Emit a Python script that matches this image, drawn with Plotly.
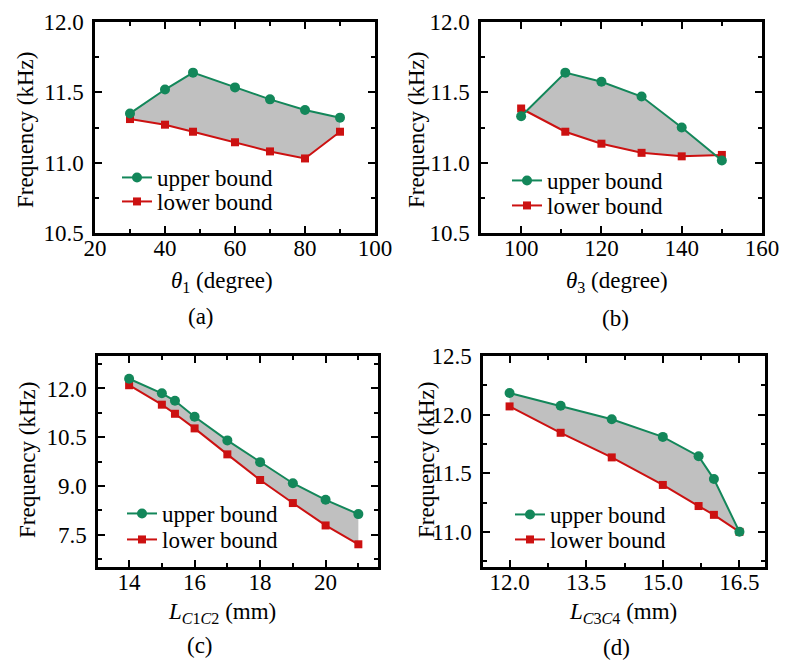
import plotly.graph_objects as go

# ---------------- data ----------------
a_x = [30, 40, 48, 60, 70, 80, 90]
a_upper = [11.35, 11.52, 11.64, 11.535, 11.45, 11.375, 11.32]
a_lower = [11.31, 11.27, 11.22, 11.145, 11.08, 11.03, 11.22]

b_x = [100, 111, 120, 130, 140, 150]
b_upper = [11.33, 11.64, 11.575, 11.47, 11.25, 11.015]
b_lower = [11.385, 11.22, 11.135, 11.07, 11.045, 11.055]

c_x = [14, 15, 15.4, 16, 17, 18, 19, 20, 21]
c_upper = [12.3, 11.85, 11.62, 11.13, 10.4, 9.73, 9.08, 8.57, 8.13]
c_lower = [12.1, 11.5, 11.22, 10.77, 9.97, 9.18, 8.47, 7.78, 7.2]

d_x = [12, 13, 14, 15, 15.7, 16, 16.5]
d_upper = [12.185, 12.075, 11.96, 11.81, 11.645, 11.45, 11.0]
d_lower = [12.07, 11.845, 11.635, 11.4, 11.22, 11.145, 11.0]

series_names = ["upper bound", "lower bound"]
x_titles = ["<i>θ</i><sub>1</sub> (degree)", "<i>θ</i><sub>3</sub> (degree)",
            "<i>L</i><sub><i>C</i>1<i>C</i>2</sub> (mm)", "<i>L</i><sub><i>C</i>3<i>C</i>4</sub> (mm)"]
y_title = "Frequency (kHz)"
panel_labels = ["(a)", "(b)", "(c)", "(d)"]

# ---------------- style ----------------
# the page body has an 8px margin, so the figure is drawn from (8, 8)
OFF = 8
W, H = 791 - OFF, 663 - OFF
FONT = "Liberation Serif"
FS = 23
GREEN = "#13875A"
RED = "#CC1111"
FILL = "#C0C0C0"

def px(x):
    return (x - OFF) / W

def py(y):
    return 1 - (y - OFF) / H

panels = [
    dict(x=a_x, up=a_upper, lo=a_lower, frame=(95, 375, 22, 233), xr=[20, 100], yr=[10.5, 12.0],
         xd=20, xt0=0, xm=10, yd=0.5, yt0=10.5, ym=0.25, xfmt="d", yfmt=".1f",
         ytitle=(25, 130), xtitle=(222, 282), lab=(201, 316), leg=(117, 178, 202)),
    dict(x=b_x, up=b_upper, lo=b_lower, frame=(481, 762, 22, 233), xr=[90, 160], yr=[10.5, 12.0],
         xd=20, xt0=0, xm=10, yd=0.5, yt0=10.5, ym=0.25, xfmt="d", yfmt=".1f",
         ytitle=(416, 130), xtitle=(617, 282), lab=(615, 318), leg=(507, 181, 206)),
    dict(x=c_x, up=c_upper, lo=c_lower, frame=(98, 378, 356, 567), xr=[13.05, 21.6], yr=[6.5, 13.0],
         xd=2, xt0=0, xm=1, yd=1.5, yt0=7.5, ym=0.75, xfmt="d", yfmt=".1f",
         ytitle=(28, 460), xtitle=(222, 613), lab=(200, 645), leg=(122, 514, 540)),
    dict(x=d_x, up=d_upper, lo=d_lower, frame=(483, 765, 356, 567), xr=[11.48, 17.0], yr=[10.7, 12.5],
         xd=1.5, xt0=12, xm=0.75, yd=0.5, yt0=11.0, ym=0.25, xfmt=".1f", yfmt=".1f",
         ytitle=(427, 460), xtitle=(623, 613), lab=(616, 647), leg=(510, 515, 540)),
]

LEG_OFF = 22  # distance from legend top to first item centre

fig = go.Figure()
layout = dict(
    width=W, height=H,
    margin=dict(l=0, r=0, t=0, b=0, autoexpand=False),
    paper_bgcolor="white", plot_bgcolor="white",
    font=dict(family=FONT, size=FS, color="black"),
    showlegend=True,
    annotations=[],
)

for i, p in enumerate(panels):
    n = "" if i == 0 else str(i + 1)
    xa, ya = "x" + n, "y" + n
    lg_up = "legend" + ("" if i == 0 else str(2 * i + 1))
    lg_lo = "legend" + str(2 * i + 2)
    # shaded region between bounds
    fig.add_trace(go.Scatter(
        x=list(p["x"]) + list(p["x"])[::-1],
        y=list(p["up"]) + list(p["lo"])[::-1],
        xaxis=xa, yaxis=ya, mode="lines", fill="toself", fillcolor=FILL,
        line=dict(width=0, color=FILL), showlegend=False, hoverinfo="skip"))
    fig.add_trace(go.Scatter(
        x=p["x"], y=p["lo"], xaxis=xa, yaxis=ya, mode="lines+markers",
        name=series_names[1], legend=lg_lo,
        line=dict(color=RED, width=2),
        marker=dict(symbol="square", size=8, color=RED)))
    fig.add_trace(go.Scatter(
        x=p["x"], y=p["up"], xaxis=xa, yaxis=ya, mode="lines+markers",
        name=series_names[0], legend=lg_up,
        line=dict(color=GREEN, width=2),
        marker=dict(symbol="circle", size=10, color=GREEN)))

    l, r, t, b = p["frame"]
    common = dict(showline=True, linecolor="black", linewidth=2.5, mirror="ticks",
                  ticks="inside", ticklen=7, tickwidth=2, tickcolor="black",
                  showgrid=False, zeroline=False, fixedrange=True, automargin=False,
                  tickfont=dict(family=FONT, size=FS, color="black"))
    layout["xaxis" + n] = dict(
        common, domain=[px(l), px(r)], range=p["xr"], anchor=ya,
        tickmode="linear", tick0=p["xt0"], dtick=p["xd"], tickformat=p["xfmt"],
        ticklabelstandoff=-7,
        minor=dict(ticks="inside", ticklen=4, tickwidth=2, tickcolor="black",
                   dtick=p["xm"], tick0=p["xt0"]))
    layout["yaxis" + n] = dict(
        common, domain=[py(b), py(t)], range=p["yr"], anchor=xa,
        tickmode="linear", tick0=p["yt0"], dtick=p["yd"], tickformat=p["yfmt"],
        ticklabelstandoff=4,
        minor=dict(ticks="inside", ticklen=4, tickwidth=2, tickcolor="black",
                   dtick=p["ym"], tick0=p["yt0"]))
    lgx, yup, ylo = p["leg"]
    for lid, yc in ((lg_up, yup), (lg_lo, ylo)):
        layout[lid] = dict(x=px(lgx), y=py(yc - LEG_OFF), xanchor="left", yanchor="top",
                           bgcolor="rgba(0,0,0,0)", borderwidth=0, tracegroupgap=0,
                           font=dict(family=FONT, size=FS, color="black"))

    ytx, yty = p["ytitle"]
    layout["annotations"].append(dict(
        text=y_title, x=px(ytx), y=py(yty), xref="paper", yref="paper",
        textangle=-90, showarrow=False, xanchor="center", yanchor="middle",
        font=dict(family=FONT, size=FS, color="black")))
    xtx, xty = p["xtitle"]
    layout["annotations"].append(dict(
        text=x_titles[i], x=px(xtx), y=py(xty), xref="paper", yref="paper",
        showarrow=False, xanchor="center", yanchor="middle",
        font=dict(family=FONT, size=FS, color="black")))
    lx, ly = p["lab"]
    layout["annotations"].append(dict(
        text=panel_labels[i], x=px(lx), y=py(ly), xref="paper", yref="paper",
        showarrow=False, xanchor="center", yanchor="middle",
        font=dict(family=FONT, size=FS, color="black")))

fig.update_layout(**layout)
fig.write_html("out.html")
